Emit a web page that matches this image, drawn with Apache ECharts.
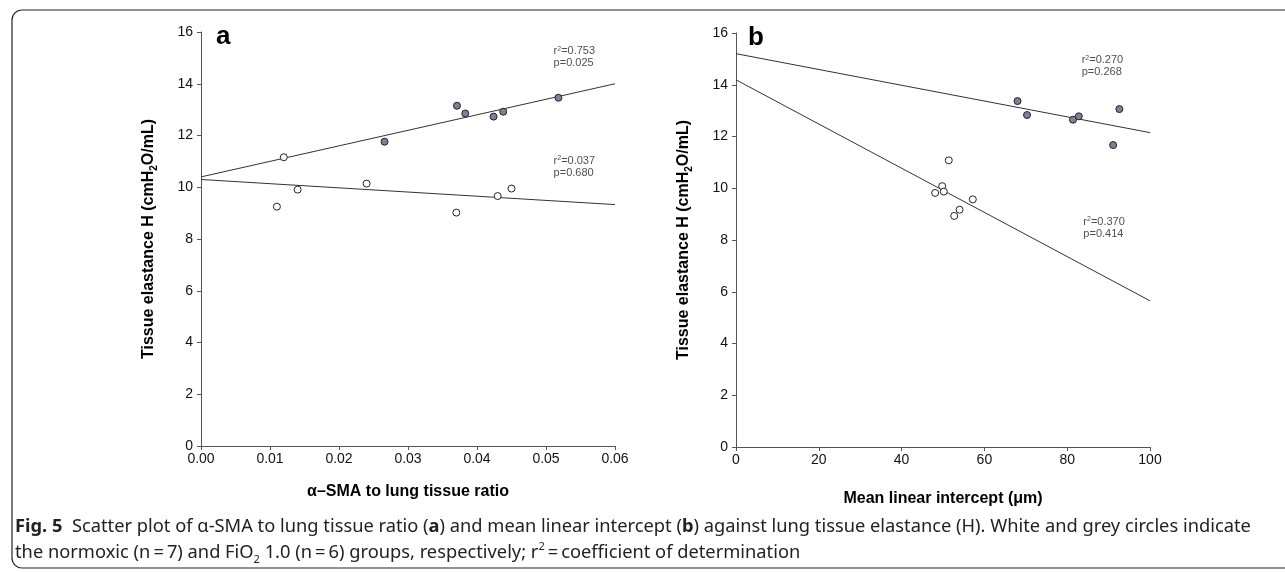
<!DOCTYPE html>
<html>
<head>
<meta charset="utf-8">
<script src="https://cdn.jsdelivr.net/npm/echarts@6/dist/echarts.min.js"></script>
<style>
  html, body { margin: 0; padding: 0; background: #fff; }
  #fig5 { width: 1285px; height: 573px; }
</style>
</head>
<body>
<div id="fig5"></div>
<script>
// panel a: alpha-SMA ratio vs tissue elastance
var smaNormoxic = [0.0110, 0.0120, 0.0140, 0.0240, 0.0370, 0.0430, 0.0450];
var hNormoxicA  = [9.25, 11.16, 9.91, 10.14, 9.02, 9.66, 9.95];
var smaFio2 = [0.0266, 0.0371, 0.0383, 0.0424, 0.0438, 0.0518];
var hFio2A  = [11.76, 13.15, 12.85, 12.73, 12.92, 13.46];

// panel b: mean linear intercept vs tissue elastance
var mliNormoxic = [48.1, 49.8, 50.2, 51.4, 52.7, 54.0, 57.2];
var hNormoxicB  = [9.82, 10.08, 9.87, 11.08, 8.93, 9.17, 9.57];
var mliFio2 = [68.0, 70.3, 81.4, 82.8, 91.1, 92.6];
var hFio2B  = [13.37, 12.83, 12.65, 12.78, 11.67, 13.06];

// regression lines (x range ends)
var fitFio2A     = [[0, 10.40], [0.06, 14.00]];
var fitNormoxicA = [[0, 10.30], [0.06, 9.33]];
var fitFio2B     = [[0, 15.20], [100, 12.15]];
var fitNormoxicB = [[0, 14.19], [100, 5.65]];

var statsA = [
  { pos: [0.0511, 15.02], r2: '0.753', p: '0.025' },
  { pos: [0.0511, 10.80], r2: '0.037', p: '0.680' }
];
var statsB = [
  { pos: [83.5, 14.72], r2: '0.270', p: '0.268' },
  { pos: [83.9, 8.48], r2: '0.370', p: '0.414' }
];

var xTicksA = [0, 0.01, 0.02, 0.03, 0.04, 0.05, 0.06];
var xTicksB = [0, 20, 40, 60, 80, 100];
var yTicks  = [0, 2, 4, 6, 8, 10, 12, 14, 16];

var FONT = 'Liberation Sans, Arial, sans-serif';
var CAP = 18.3;

function zip(xs, ys) {
  return xs.map(function (x, i) { return [x, ys[i]]; });
}

var myChart = echarts.init(document.getElementById('fig5'));

function xAxisFor(idx, ticks, title, gap, fmt) {
  return {
    gridIndex: idx, type: 'value',
    min: ticks[0], max: ticks[ticks.length - 1], interval: ticks[1] - ticks[0],
    name: title, nameLocation: 'middle', nameGap: gap,
    nameTextStyle: { fontFamily: FONT, fontWeight: 'bold', fontSize: 16, color: '#000' },
    axisLine: { show: true, lineStyle: { color: '#555', width: 1 } },
    axisTick: { show: true, length: 4, lineStyle: { color: '#555' } },
    axisLabel: { fontFamily: FONT, fontSize: 14, color: '#111', margin: 6, formatter: fmt },
    splitLine: { show: false }
  };
}

function yAxisFor(idx) {
  return {
    gridIndex: idx, type: 'value',
    min: yTicks[0], max: yTicks[yTicks.length - 1], interval: 2,
    name: 'Tissue elastance H (cmH{s|2}O/mL)',
    nameLocation: 'middle', nameGap: 42,
    nameTextStyle: {
      fontFamily: FONT, fontWeight: 'bold', fontSize: 16, color: '#000', lineHeight: 20,
      rich: { s: { fontFamily: FONT, fontWeight: 'bold', fontSize: 10, lineHeight: 10, verticalAlign: 'bottom', color: '#000' } }
    },
    axisLine: { show: true, lineStyle: { color: '#555', width: 1 } },
    axisTick: { show: true, length: 4, lineStyle: { color: '#555' } },
    axisLabel: { fontFamily: FONT, fontSize: 14, color: '#111', margin: 8 },
    splitLine: { show: false }
  };
}

function fitLine(idx, pts) {
  return {
    type: 'line', xAxisIndex: idx, yAxisIndex: idx, data: pts,
    symbol: 'none', silent: true, z: 2,
    lineStyle: { color: '#333', width: 1 }
  };
}

function dots(idx, pts, fill) {
  return {
    type: 'scatter', xAxisIndex: idx, yAxisIndex: idx, data: pts,
    symbol: 'circle', symbolSize: 7, z: 3,
    itemStyle: { color: fill, borderColor: '#222', borderWidth: 1, opacity: 1 }
  };
}

function statLabels(idx, stats) {
  return {
    type: 'scatter', xAxisIndex: idx, yAxisIndex: idx, symbolSize: 0, silent: true, z: 4,
    data: stats.map(function (s) { return { value: s.pos, r2: s.r2, p: s.p }; }),
    label: {
      show: true, position: [0, 0], align: 'left', verticalAlign: 'middle',
      fontFamily: FONT, fontSize: 11, color: '#222', lineHeight: 12,
      formatter: function (d) { return 'r{sup|2}=' + d.data.r2 + '\np=' + d.data.p; },
      rich: { sup: { fontFamily: FONT, fontSize: 7, lineHeight: 12, verticalAlign: 'top', color: '#222' } }
    }
  };
}

option = {
  animation: false,
  backgroundColor: '#fff',
  grid: [
    { left: 201, top: 32, width: 414, height: 414 },
    { left: 736, top: 33, width: 414, height: 414 }
  ],
  xAxis: [
    xAxisFor(0, xTicksA, '\u03b1\u2013SMA to lung tissue ratio', 38, function (v) { return v.toFixed(2); }),
    xAxisFor(1, xTicksB, 'Mean linear intercept (\u03bcm)', 44)
  ],
  yAxis: [yAxisFor(0), yAxisFor(1)],
  series: [
    fitLine(0, fitFio2A),
    fitLine(0, fitNormoxicA),
    dots(0, zip(smaNormoxic, hNormoxicA), '#ffffff'),
    dots(0, zip(smaFio2, hFio2A), '#7e8098'),
    statLabels(0, statsA),
    fitLine(1, fitFio2B),
    fitLine(1, fitNormoxicB),
    dots(1, zip(mliNormoxic, hNormoxicB), '#ffffff'),
    dots(1, zip(mliFio2, hFio2B), '#7e8098'),
    statLabels(1, statsB)
  ],
  graphic: [
    {
      type: 'rect', silent: true,
      shape: { x: 12, y: 10, width: 1290, height: 558, r: 10 },
      style: { fill: 'none', stroke: '#222', lineWidth: 1.2 }
    },
    {
      type: 'text', left: 216, top: 24,
      style: { text: 'a', font: 'bold 26px ' + FONT, fill: '#000' }
    },
    {
      type: 'text', left: 748, top: 25,
      style: { text: 'b', font: 'bold 26px ' + FONT, fill: '#000' }
    },
    {
      type: 'text', left: 15, top: 518,
      style: {
        text: '{b|Fig. 5}  Scatter plot of \u03b1-SMA to lung tissue ratio ({b|a}) and mean linear intercept ({b|b}) against lung tissue elastance (H). White and grey circles indicate',
        font: CAP + 'px Noto Sans', fill: '#222',
        rich: { b: { fontFamily: 'Noto Sans', fontWeight: 'bold', fontSize: CAP, fill: '#222' } }
      }
    },
    {
      type: 'text', left: 15, top: 541,
      style: {
        text: 'the normoxic (n\u2009=\u20097) and FiO{s|2} 1.0 (n\u2009=\u20096) groups, respectively; r{p|2}\u2009=\u2009coefficient of determination',
        font: CAP + 'px Noto Sans', fill: '#222', lineHeight: 24,
        rich: {
          s: { fontFamily: 'Noto Sans', fontSize: 11, lineHeight: 24, verticalAlign: 'bottom', fill: '#222' },
          p: { fontFamily: 'Noto Sans', fontSize: 11, lineHeight: 24, verticalAlign: 'top', fill: '#222' }
        }
      }
    }
  ]
};

myChart.setOption(option);
</script>
</body>
</html>
